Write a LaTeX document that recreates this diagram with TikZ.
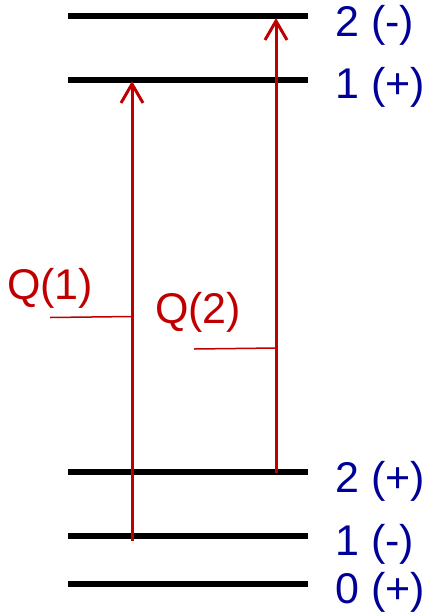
\documentclass[tikz,border=0pt]{standalone}
\usepackage{fontspec}
\setmainfont{Liberation Sans}
\usetikzlibrary{arrows.meta}
\definecolor{lvlblue}{RGB}{0,0,153}
\definecolor{trred}{RGB}{192,0,0}
\tikzset{
  level/.style={draw=black, line width=5.5pt},
  lvllabel/.style={anchor=base west, inner sep=0pt, text=lvlblue, font=\fontsize{43}{50}\selectfont},
  trans/.style={draw=trred, line width=3pt, -{Straight Barb[length=19pt,width=22pt,line width=3pt]}},
  leader/.style={draw=trred, line width=1.5pt},
  qlabel/.style={anchor=base west, inner sep=0pt, text=trred, font=\fontsize{43}{50}\selectfont}
}
\begin{document}
\begin{tikzpicture}[x=1pt,y=-1pt]
\useasboundingbox (0,0) rectangle (423,614);
% level end points
\coordinate (a2mL) at (68,16);  \coordinate (a2mR) at (308,16);
\coordinate (a1pL) at (68,80);  \coordinate (a1pR) at (308,80);
\coordinate (a2pL) at (68,472); \coordinate (a2pR) at (308,472);
\coordinate (a1mL) at (68,536); \coordinate (a1mR) at (308,536);
\coordinate (a0pL) at (68,584); \coordinate (a0pR) at (308,584);
\draw[level] (a2mL) -- (a2mR);
\draw[level] (a1pL) -- (a1pR);
\draw[level] (a2pL) -- (a2pR);
\draw[level] (a1mL) -- (a1mR);
\draw[level] (a0pL) -- (a0pR);
% level labels
\node[lvllabel] (t2m) at (335,36) {2 (-)};
\node[lvllabel] (t1p) at (335,98) {1 (+)};
\node[lvllabel] (t2p) at (335,492) {2 (+)};
\node[lvllabel] (t1m) at (335,555) {1 (-)};
\node[lvllabel] (t0p) at (335,603) {0 (+)};
% transitions
\coordinate (q1s) at (132,541);
\coordinate (q1e) at (132,81);
\coordinate (q2s) at (276,473);
\coordinate (q2e) at (276,18);
\draw[trans] (q1s) -- (q1e);
\draw[trans] (q2s) -- (q2e);
% Q labels with leaders
\node[qlabel] (q1) at (7,299) {Q(1)};
\node[qlabel] (q2) at (155,323) {Q(2)};
\coordinate (l1a) at (50,317.5);
\coordinate (l1b) at (132,316.5);
\coordinate (l2a) at (194,349);
\coordinate (l2b) at (276,348);
\draw[leader] (l1a) -- (l1b);
\draw[leader] (l2a) -- (l2b);
\end{tikzpicture}
\end{document}
